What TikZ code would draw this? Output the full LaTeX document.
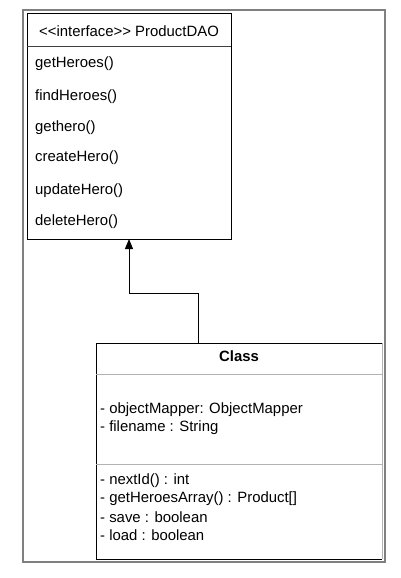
\documentclass[tikz,border=0pt]{standalone}
\usepackage{fontspec}
\setmainfont{Liberation Sans}[Ligatures=NoCommon]
\usetikzlibrary{arrows.meta}
\begin{document}
\begin{tikzpicture}[x=1pt,y=-1pt,
  frame/.style={draw=black!50,line width=2.4pt},
  box/.style={draw=black,line width=1pt},
  sep/.style={draw=black!75,line width=0.9pt},
  lsep/.style={draw=black!30,line width=1pt},
  txt/.style={anchor=west,inner sep=0pt,font=\fontsize{14.9}{17.5}\selectfont},
  ctxt/.style={anchor=center,inner sep=0pt,font=\fontsize{14.9}{17.5}\selectfont},
  conn/.style={draw=black,line width=1pt,-{Triangle[length=10pt,width=8pt]}}]
\useasboundingbox (0,0) rectangle (400,578);
\fill[white] (0,0) rectangle (400,578);
% outer frame
\draw[frame] (23,10) rectangle (385,562);
% interface box
\node[draw=black,line width=1pt,minimum width=204pt,minimum height=226pt,inner sep=0pt,anchor=north west] (iface) at (27,13) {};
\draw[sep] (27,46) -- (231,46);
\node[ctxt] (ihead) at (129,31) {{<}{<}interface{>}{>} ProductDAO};
\node[txt] (m1) at (35,64) {getHeroes()};
\node[txt] (m2) at (35,97) {findHeroes()};
\node[txt] (m3) at (35,128) {gethero()};
\node[txt] (m4) at (35,158) {createHero()};
\node[txt] (m5) at (35,191) {updateHero()};
\node[txt] (m6) at (35,222) {deleteHero()};
% class box
\node[inner sep=0pt,minimum width=286pt,minimum height=216pt,anchor=north west] (cls) at (96,343) {};
\draw[lsep] (382,343) -- (382,559);
\draw[box] (382,343) -- (96,343) -- (96,559) -- (382,559);
\draw[lsep] (96,374) -- (382,374);
\draw[lsep] (96,464) -- (382,464);
\node[ctxt,font=\fontsize{14.9}{17.5}\selectfont\bfseries] (ctitle) at (239,356) {Class};
\node[txt] (a1) at (100,410) {- objectMapper: ObjectMapper};
\node[txt] (a2) at (100,428) {- filename : String};
\node[txt] (o1) at (100,481) {- nextId() : int};
\node[txt] (o2) at (100,499) {- getHeroesArray() : Product[]};
\node[txt] (o3) at (100,517) {- save : boolean};
\node[txt] (o4) at (100,535) {- load : boolean};
% connector
\coordinate (cstart) at (198,343);
\coordinate (iend) at (129,239);
\draw[conn] (cstart) -- (198,293) -- (129,293) -- (iend);
\end{tikzpicture}
\end{document}
